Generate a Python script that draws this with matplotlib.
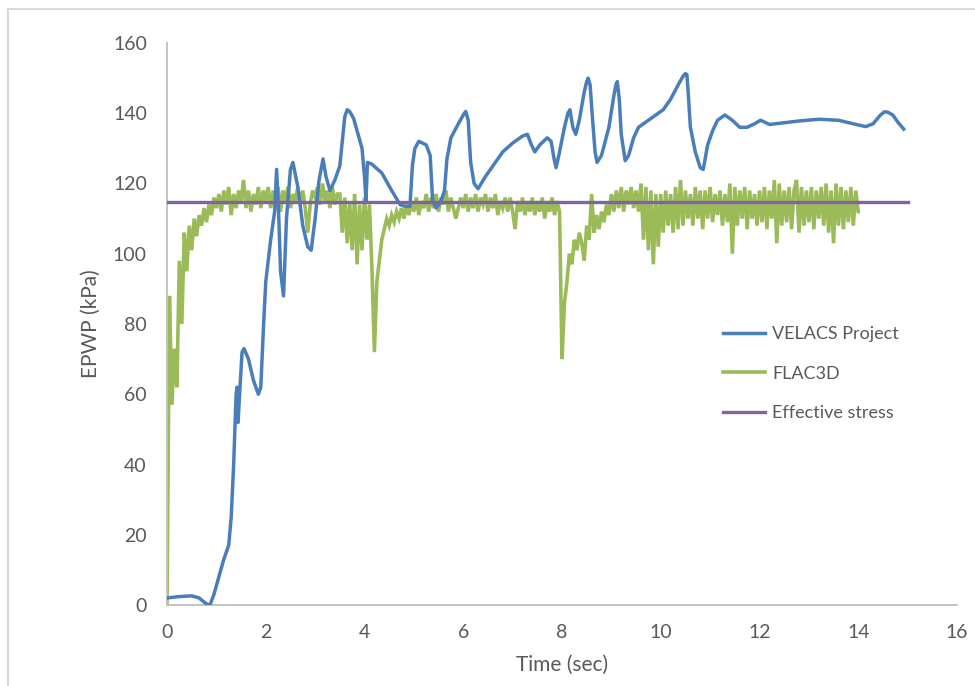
import numpy as np
import matplotlib
matplotlib.use("Agg")
import matplotlib.pyplot as plt
from matplotlib.patches import Rectangle

plt.rcParams['font.family'] = ['Lato', 'DejaVu Sans']

# VELACS Project curve (time in sec, EPWP in kPa)
velacs_t = [0.0, 0.25, 0.5, 0.65, 0.8, 0.87, 0.95, 1.05, 1.15, 1.25, 1.3, 1.35, 1.4, 1.42,
            1.44, 1.47, 1.52, 1.56, 1.65, 1.75, 1.85, 1.9, 1.95, 2.0, 2.1, 2.18, 2.22, 2.26,
            2.3, 2.36, 2.42, 2.5, 2.55, 2.65, 2.75, 2.85, 2.92, 3.0, 3.08, 3.16, 3.22, 3.3,
            3.4, 3.5, 3.55, 3.6, 3.65, 3.7, 3.78, 3.85, 3.95, 4.0, 4.03, 4.06, 4.15, 4.35, 4.55, 4.72,
            4.82, 4.92, 4.97, 5.02, 5.1, 5.25, 5.33, 5.38, 5.45, 5.55, 5.62, 5.67, 5.75, 5.9,
            6.0, 6.05, 6.1, 6.15, 6.22, 6.3, 6.45, 6.6, 6.8, 7.0, 7.2, 7.3, 7.38, 7.45, 7.55, 7.7,
            7.78, 7.84, 7.88, 7.95, 8.05, 8.12, 8.16, 8.22, 8.28, 8.35, 8.45, 8.5, 8.53, 8.57, 8.62, 8.67, 8.71,
            8.8, 8.95, 9.05, 9.09, 9.12, 9.16, 9.2, 9.28, 9.35, 9.45, 9.55, 9.7, 9.9, 10.05, 10.2, 10.35,
            10.45, 10.5, 10.53, 10.56, 10.6, 10.7, 10.8, 10.86, 10.95, 11.05, 11.15, 11.3, 11.45,
            11.6, 11.75, 11.9, 12.02, 12.1, 12.2, 12.5, 12.8, 13.2, 13.6, 13.9, 14.15, 14.3,
            14.45, 14.53, 14.6, 14.7, 14.8, 14.92]
velacs_p = [2.0, 2.4, 2.6, 2.0, 0.3, 0.0, 3.0, 8.0, 13.0, 17.0, 25.0, 40.0, 60.0, 62.0,
            52.0, 60.0, 72.0, 73.0, 70.0, 64.0, 60.0, 62.0, 78.0, 92.0, 104.0, 112.0, 124.0, 112.0,
            95.0, 88.0, 110.0, 124.0, 126.0, 119.0, 108.0, 102.0, 101.0, 110.0, 121.0, 127.0, 122.0, 118.0,
            121.0, 125.0, 132.0, 139.0, 141.0, 140.5, 138.5, 135.0, 130.0, 122.0, 115.0, 126.0, 125.5, 123.0, 118.0, 114.0,
            113.5, 113.5, 125.0, 130.0, 132.0, 131.0, 128.0, 115.0, 113.0, 115.0, 118.0, 127.0, 133.0, 137.0,
            139.5, 140.5, 138.0, 126.0, 120.0, 118.5, 122.0, 125.0, 129.0, 131.5, 133.5, 134.0, 131.0, 129.0, 131.0, 133.0,
            132.0, 127.0, 124.5, 129.0, 136.0, 140.0, 141.0, 136.0, 134.0, 138.0, 146.0, 149.0, 150.0, 148.0, 138.0, 129.0, 126.0,
            128.0, 136.0, 145.0, 148.0, 149.0, 144.0, 134.0, 126.5, 128.0, 133.0, 136.0, 137.5, 139.5, 141.0, 144.0, 148.0,
            150.5, 151.3, 151.0, 145.0, 136.0, 129.0, 124.5, 124.0, 131.0, 135.0, 138.0, 139.5, 138.0,
            136.0, 136.0, 137.0, 138.0, 137.5, 136.8, 137.3, 137.8, 138.3, 138.0, 137.0, 136.2, 137.0,
            139.5, 140.4, 140.3, 139.5, 137.5, 135.5]

# FLAC3D record, sampled every 0.05 s from t = 0 to 14 s
flac_dt = 0.05
flac_p = [
    0, 88, 57, 73, 62, 98, 80, 106, 95, 108, 101, 110, 105, 111, 108, 113, 109, 114, 111, 116,
    113, 117, 112, 118, 114, 119, 111, 117, 113, 118, 115, 121, 113, 118, 112, 117, 114, 119, 113, 118,
    115, 119, 113, 118, 114, 119, 112, 118, 115, 119, 113, 117, 115, 119, 114, 118, 113, 106, 114, 118,
    116, 119, 114, 120, 115, 118, 113, 119, 114, 117, 117, 106, 116, 103, 115, 101, 117, 97, 114, 101,
    116, 104, 114, 96, 72, 92, 98, 104, 107, 110, 108, 111, 109, 112, 110, 113, 110, 114, 111, 115,
    112, 116, 111, 115, 113, 117, 112, 116, 113, 117, 112, 116, 114, 118, 112, 116, 113, 110, 113, 116,
    113, 117, 112, 116, 113, 117, 112, 116, 114, 117, 112, 116, 113, 117, 111, 115, 113, 116, 112, 116,
    112, 107, 115, 112, 116, 111, 115, 112, 116, 111, 115, 112, 116, 110, 115, 112, 116, 111, 115, 112,
    70, 86, 92, 100, 97, 104, 101, 106, 103, 98, 108, 104, 117, 106, 111, 107, 112, 109, 114, 111,
    117, 112, 118, 113, 119, 112, 118, 114, 119, 113, 118, 112, 120, 104, 119, 101, 118, 97, 117, 102,
    117, 106, 118, 108, 117, 106, 119, 107, 121, 108, 118, 110, 117, 108, 119, 110, 118, 107, 118, 110,
    119, 109, 117, 111, 118, 108, 117, 109, 120, 100, 119, 108, 118, 110, 119, 107, 118, 110, 117, 108,
    118, 109, 119, 107, 118, 110, 121, 103, 120, 108, 118, 109, 119, 107, 118, 121, 106, 119, 108, 118,
    109, 119, 107, 118, 110, 119, 108, 120, 106, 118, 103, 120, 108, 119, 107, 118, 109, 119, 108, 118,
    112,
]
flac_t = np.arange(len(flac_p)) * flac_dt

# Effective stress level
stress_t = [0, 15]
stress_p = [114.7, 114.7]

blue = '#4A7EBB'
green = '#9BBB59'
purple = '#8064A2'
text_grey = '#595959'
axis_grey = '#BFBFBF'

fig = plt.figure(figsize=(9.75, 6.86), dpi=100)
ax = fig.add_axes([167 / 975, 1 - 605 / 686, (957 - 167) / 975, (605 - 43) / 686])

ax.plot(flac_t, flac_p, color=green, lw=2.6, label='FLAC3D', zorder=2,
        solid_joinstyle='miter')
ax.plot(velacs_t, velacs_p, color=blue, lw=2.5, label='VELACS Project', zorder=3,
        solid_joinstyle='round')
ax.plot(stress_t, stress_p, color=purple, lw=2.4, label='Effective stress', zorder=4)

ax.set_xlim(0, 16)
ax.set_ylim(0, 160)
ax.set_xticks(range(0, 17, 2))
ax.set_yticks(range(0, 161, 20))
ax.tick_params(length=0, labelsize=14, colors=text_grey)
ax.tick_params(axis='x', pad=14)
ax.tick_params(axis='y', pad=14.5)
for s in ['top', 'right']:
    ax.spines[s].set_visible(False)
for s in ['left', 'bottom']:
    ax.spines[s].set_color(axis_grey)
    ax.spines[s].set_linewidth(1.3)

ax.set_xlabel('Time (sec)', fontsize=15, color=text_grey, labelpad=10)
ax.set_ylabel('EPWP (kPa)', fontsize=15, color=text_grey, labelpad=9)

handles, labels = ax.get_legend_handles_labels()
order = [1, 0, 2]
leg = ax.legend([handles[i] for i in order], [labels[i] for i in order],
                loc='upper left', bbox_to_anchor=(0.6835, 0.525), frameon=False,
                fontsize=13, handlelength=2.3, handletextpad=0.4, labelspacing=1.3)
for t in leg.get_texts():
    t.set_color(text_grey)

# outer chart frame
fig.patches.append(Rectangle((8 / 975, -0.1), 1.2, 1 - 9 / 686 + 0.1, transform=fig.transFigure,
                             fill=False, edgecolor='#D9D9D9', lw=1.5))

fig.savefig('out.png', dpi=100)
